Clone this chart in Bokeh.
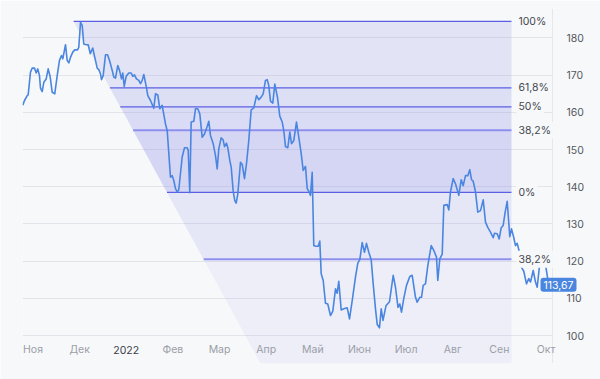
from bokeh.plotting import figure
from bokeh.models import Range1d, FixedTicker, ColumnDataSource, LabelSet, Label
from bokeh.embed import file_html
from bokeh.resources import INLINE
from bokeh.core.properties import value

# ---- data -------------------------------------------------------------
# time in months since 1 Nov 2021 (0 = Ноя, 1 = Дек, 2 = Jan 2022 ...)
month_pos = list(range(12))
month_labels = ["Ноя", "Дек", "2022", "Фев", "Мар", "Апр", "Май", "Июн", "Июл", "Авг", "Сен", "Окт"]
month_colors = ["#9b9ea7", "#9b9ea7", "#3a3d45", "#9b9ea7", "#9b9ea7", "#9b9ea7",
                "#9b9ea7", "#9b9ea7", "#9b9ea7", "#9b9ea7", "#9b9ea7", "#9b9ea7"]

t = [-0.219, -0.182, -0.124, -0.103, -0.054, -0.017, 0.032, 0.069, 0.103, 0.139, 0.161, 0.197,
     0.232, 0.283, 0.326, 0.369, 0.412, 0.467, 0.519, 0.568, 0.611, 0.639, 0.697, 0.733, 0.768,
     0.804, 0.853, 0.896, 0.954, 0.982, 1.019, 1.055, 1.089, 1.141, 1.184, 1.227, 1.282, 1.325,
     1.377, 1.411, 1.447, 1.469, 1.505, 1.555, 1.598, 1.640, 1.698, 1.733, 1.769, 1.818, 1.855,
     1.898, 1.926, 1.956, 1.998, 2.054, 2.106, 2.140, 2.176, 2.219, 2.269, 2.305, 2.342, 2.376,
     2.434, 2.462, 2.520, 2.590, 2.627, 2.676, 2.719, 2.770, 2.841, 2.878, 2.948, 2.985, 3.019,
     3.056, 3.092, 3.126, 3.199, 3.249, 3.307, 3.328, 3.362, 3.392, 3.448, 3.485, 3.534, 3.577,
     3.628, 3.677, 3.735, 3.770, 3.806, 3.864, 3.913, 3.950, 3.984, 4.036, 4.078, 4.106, 4.149,
     4.177, 4.220, 4.250, 4.293, 4.327, 4.357, 4.392, 4.449, 4.486, 4.535, 4.578, 4.627, 4.679,
     4.735, 4.793, 4.842, 4.893, 4.936, 4.985, 5.022, 5.056, 5.093, 5.142, 5.185, 5.243, 5.292,
     5.344, 5.378, 5.414, 5.464, 5.507, 5.543, 5.592, 5.650, 5.700, 5.751, 5.794, 5.843, 5.880,
     5.914, 5.950, 5.987, 6.021, 6.058, 6.116, 6.150, 6.180, 6.223, 6.272, 6.321, 6.379, 6.429,
     6.487, 6.523, 6.557, 6.609, 6.664, 6.737, 6.787, 6.845, 6.915, 6.965, 7.008, 7.059, 7.108,
     7.151, 7.201, 7.252, 7.295, 7.344, 7.381, 7.430, 7.467, 7.505, 7.569, 7.644, 7.724, 7.773,
     7.827, 7.865, 7.902, 7.951, 8.009, 8.080, 8.131, 8.202, 8.238, 8.294, 8.331, 8.367, 8.416,
     8.466, 8.539, 8.594, 8.652, 8.680, 8.723, 8.775, 8.809, 8.882, 8.916, 8.952, 9.010, 9.060,
     9.131, 9.182, 9.225, 9.274, 9.323, 9.366, 9.403, 9.439, 9.489, 9.538, 9.596, 9.654, 9.703,
     9.752, 9.810, 9.868, 9.896, 9.954, 9.997, 10.040, 10.082, 10.125, 10.168, 10.224, 10.261,
     10.310, 10.346, 10.383, 10.417, 10.453, 10.524, 10.582, 10.631, 10.668, 10.726, 10.775,
     10.812, 10.867, 10.925, 10.990, 11.026, 11.054]

price = [161.9, 163.2, 164.5, 164.7, 170.8, 171.9, 171.9, 170.6, 171.7, 169.9, 166.5, 165.6,
         168.1, 169.0, 171.7, 169.5, 165.4, 165.0, 169.9, 174.0, 175.3, 174.4, 178.2, 174.0, 173.3,
         174.8, 176.2, 176.8, 176.8, 177.5, 184.2, 183.4, 178.4, 178.2, 178.2, 175.8, 177.3, 174.8,
         171.9, 171.5, 170.4, 168.8, 169.9, 175.5, 175.5, 174.0, 171.3, 169.5, 169.2, 172.6, 171.3,
         169.0, 170.6, 167.0, 169.7, 170.6, 170.6, 169.7, 170.1, 169.0, 168.6, 167.7, 168.6, 170.2,
         166.6, 164.5, 163.2, 161.1, 165.0, 164.7, 161.0, 161.9, 156.9, 155.1, 142.6, 143.0, 141.7,
         139.5, 138.6, 139.2, 148.0, 150.5, 150.5, 149.8, 138.4, 157.4, 157.6, 161.0, 161.0, 159.6,
         153.3, 154.2, 156.2, 157.6, 153.8, 151.6, 148.4, 144.8, 150.2, 153.2, 152.6, 150.8, 151.7,
         150.5, 147.1, 145.3, 138.8, 136.3, 135.6, 138.1, 146.6, 146.0, 142.2, 146.2, 152.4, 160.7,
         161.2, 164.5, 163.4, 164.1, 165.0, 168.6, 168.8, 167.2, 163.0, 162.5, 167.6, 164.0, 159.0,
         157.4, 155.1, 150.8, 150.5, 154.7, 151.6, 152.4, 157.4, 153.3, 148.9, 144.4, 145.5, 139.5,
         138.8, 137.7, 143.9, 124.2, 124.0, 124.0, 125.4, 116.6, 114.8, 108.7, 108.5, 105.4, 106.6,
         112.6, 111.4, 114.6, 106.9, 107.2, 107.5, 104.5, 109.4, 115.7, 119.5, 120.4, 125.0, 122.4,
         124.8, 122.4, 120.4, 113.9, 107.2, 103.0, 102.1, 107.2, 104.1, 108.0, 109.1, 116.2, 113.0,
         107.6, 108.5, 106.3, 110.0, 113.5, 115.9, 116.2, 110.3, 109.0, 110.3, 110.3, 113.5, 113.9,
         118.8, 124.2, 122.9, 121.1, 114.8, 120.6, 121.9, 135.0, 135.2, 133.8, 138.6, 142.2, 140.8,
         137.7, 141.9, 140.3, 143.0, 143.0, 144.6, 141.9, 141.5, 138.6, 133.2, 133.6, 136.5, 130.5,
         129.1, 127.8, 126.3, 127.5, 127.4, 126.0, 129.0, 129.6, 133.2, 136.1, 126.6, 128.7,
         126.3, 124.2, 124.8, 123.1, 118.8, 117.3, 113.9, 115.3, 114.4, 117.5, 114.4,
         113.0, 119.5, 120.0, 119.0, 116.2, 113.67]

y_ticks = [100, 110, 120, 130, 140, 150, 160, 170, 180]
axis_pos = 11.14        # months: where the price scale sits

fib_levels = [184.45, 166.6, 161.5, 155.2, 138.5, 120.5]
fib_labels = ["100%", "61,8%", "50%", "38,2%", "0%", "38,2%"]
fib_line_colors = ["#5b5fe3", "#5b5fe3", "#5b5fe3", "#8f90ee", "#5b5fe3", "#8f90ee"]
fib_line_widths = [1.2, 1.2, 1.2, 2.0, 1.2, 2.0]
zone_alphas = [0.15, 0.18, 0.20, 0.24, 0.13, 0.065]   # zones below each level
fib_start = 0.87        # tool anchor (top-left), months
fib_end = 10.26         # tool right edge, months
fib_diag_end = 4.88     # where the trend diagonal meets the bottom

last_text = "113,67"

# ---- figure -----------------------------------------------------------
BG = "#f7f8fa"
y_lo, y_hi = 92.5, 187.93
x_lo, x_hi = -0.225, 12.169
p = figure(width=600, height=379, output_backend="svg", toolbar_location=None,
           x_axis_location=None, y_axis_location="right",
           x_range=Range1d(x_lo, x_hi), y_range=Range1d(y_lo, y_hi),
           background_fill_color=BG, border_fill_color=BG,
           min_border_left=22, min_border_right=0, min_border_top=8, min_border_bottom=16)
p.outline_line_color = None

p.xgrid.grid_line_color = None
g = p.ygrid[0]
g.ticker = FixedTicker(ticks=y_ticks)
g.grid_line_color = "#e4e5ea"
g.grid_line_width = 1
if "cross_bounds" in g.properties():
    g.cross_bounds = (x_lo, axis_pos)

ax = p.yaxis[0]
ax.ticker = FixedTicker(ticks=y_ticks)
ax.fixed_location = axis_pos
ax.axis_line_color = "#e6e7ec"
ax.major_tick_line_color = None
ax.minor_tick_line_color = None
ax.major_label_standoff = 8
ax.major_label_text_font = "Inter"
ax.major_label_text_font_size = "10.5px"
ax.major_label_text_color = "#55585f"

# ---- fibonacci zones ---------------------------------------------------
H = fib_levels[0]


def diag_x(v):
    return fib_start + (H - v) / (H - y_lo) * (fib_diag_end - fib_start)


bounds = fib_levels + [y_lo]
xs, ys = [], []
for i in range(len(fib_levels)):
    a, b = bounds[i], bounds[i + 1]
    xs.append([diag_x(a), fib_end, fib_end, diag_x(b)])
    ys.append([a, a, b, b])
p.patches(xs, ys, fill_color="#6a6ee0", fill_alpha=zone_alphas, line_color=None)

seg = ColumnDataSource(dict(x0=[diag_x(v) for v in fib_levels], x1=[fib_end] * len(fib_levels),
                            y=fib_levels, c=fib_line_colors, w=fib_line_widths))
p.segment(x0="x0", y0="y", x1="x1", y1="y", line_color="c", line_width="w", source=seg)

# ---- price line ---------------------------------------------------------
p.line(t, price, line_color="#4a86e0", line_width=1.6, line_join="round")

# ---- labels -------------------------------------------------------------
for v, lab in zip(fib_levels, fib_labels):
    p.add_layout(Label(x=fib_end, y=v, x_offset=5, text=lab, text_font="Inter",
                       text_font_size="10.5px", text_color="#45484f", text_baseline="middle",
                       text_align="left", background_fill_color=BG, padding=2))

msrc = ColumnDataSource(dict(x=month_pos, text=month_labels, c=month_colors))
p.add_layout(LabelSet(x="x", y=14, y_units="screen", text="text", source=msrc,
                      text_font=value("Inter"), text_font_size="10.5px", text_color="c",
                      text_align="center", text_baseline="middle"))

p.add_layout(Label(x=t[-1], y=price[-1], x_offset=-8, text=last_text, text_font="Inter",
                   text_font_size="10.5px", text_color="white", text_baseline="middle",
                   text_align="left", background_fill_color="#4a86e0",
                   padding=3, border_radius=3))

open("out.html", "w").write(file_html(p, INLINE))
